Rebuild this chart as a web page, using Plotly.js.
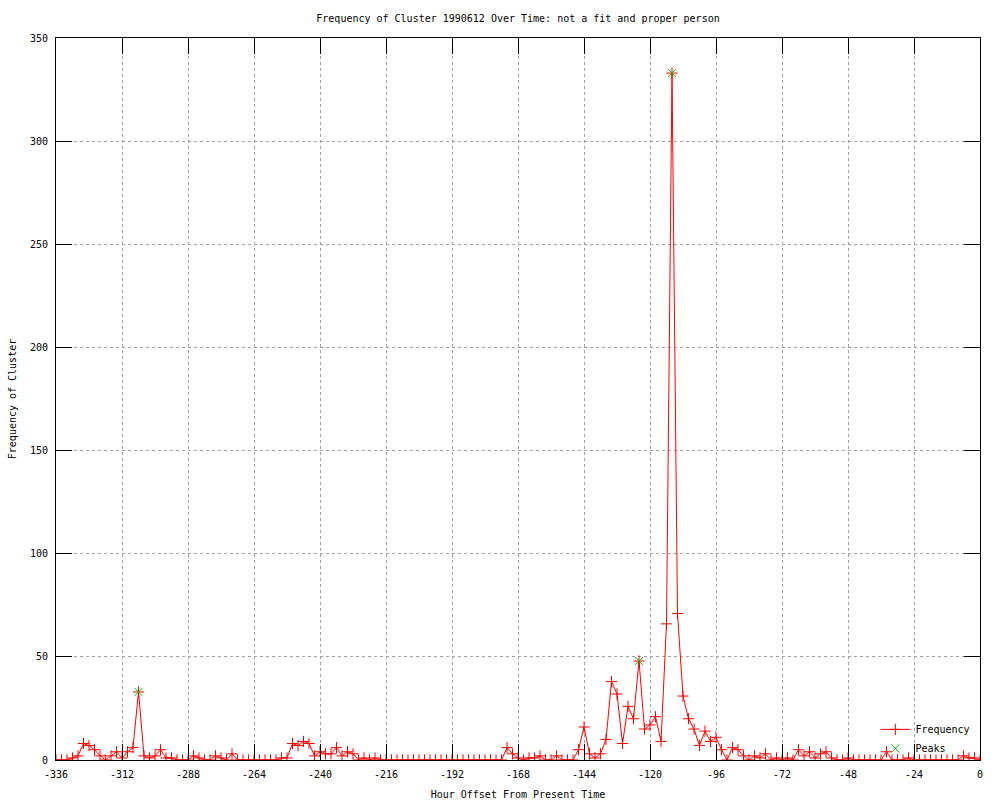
<!DOCTYPE html>
<html>
<head>
<meta charset="utf-8">
<script src="https://cdn.plot.ly/plotly-3.0.1.min.js"></script>
<style>
  html, body { margin: 0; padding: 0; background: #ffffff; }
  #chart { width: 1000px; height: 800px; }
</style>
</head>
<body>
<div id="chart"></div>
<script>
// Hour offsets (x categories), every 2 hours
const hours = [
  -336, -334, -332, -330, -328, -326, -324, -322, -320, -318,
  -316, -314, -312, -310, -308, -306, -304, -302, -300, -298,
  -296, -294, -292, -290, -288, -286, -284, -282, -280, -278,
  -276, -274, -272, -270, -268, -266, -264, -262, -260, -258,
  -256, -254, -252, -250, -248, -246, -244, -242, -240, -238,
  -236, -234, -232, -230, -228, -226, -224, -222, -220, -218,
  -216, -214, -212, -210, -208, -206, -204, -202, -200, -198,
  -196, -194, -192, -190, -188, -186, -184, -182, -180, -178,
  -176, -174, -172, -170, -168, -166, -164, -162, -160, -158,
  -156, -154, -152, -150, -148, -146, -144, -142, -140, -138,
  -136, -134, -132, -130, -128, -126, -124, -122, -120, -118,
  -116, -114, -112, -110, -108, -106, -104, -102, -100, -98,
  -96, -94, -92, -90, -88, -86, -84, -82, -80, -78,
  -76, -74, -72, -70, -68, -66, -64, -62, -60, -58,
  -56, -54, -52, -50, -48, -46, -44, -42, -40, -38,
  -36, -34, -32, -30, -28, -26, -24, -22, -20, -18,
  -16, -14, -12, -10, -8, -6, -4, -2, 0
];

// Frequency of cluster at each hour offset
const frequency = [
  0, 0, 0, 1, 2, 8, 7, 5, 2, 0,
  2, 4, 1, 4, 6, 33, 2, 1, 2, 5,
  1, 1, 0, 0, 0, 2, 1, 0, 0, 2,
  1, 0, 3, 0, 0, 0, 0, 0, 0, 0,
  0, 1, 1, 8, 7, 9, 8, 2, 4, 3,
  3, 6, 2, 4, 3, 0, 1, 0, 1, 0,
  0, 0, 0, 0, 0, 0, 0, 0, 0, 0,
  0, 0, 0, 0, 0, 0, 0, 0, 0, 0,
  0, 0, 6, 3, 1, 0, 1, 1, 2, 0,
  0, 2, 0, 0, 0, 5, 16, 3, 1, 3,
  10, 38, 32, 8, 26, 20, 48, 15, 17, 21,
  9, 66, 333, 71, 31, 20, 15, 7, 14, 9,
  11, 5, 0, 6, 5, 2, 0, 2, 1, 3,
  0, 1, 0, 1, 0, 5, 2, 4, 1, 3,
  4, 1, 0, 0, 1, 0, 0, 0, 0, 0,
  0, 4, 0, 0, 0, 1, 0, 0, 0, 0,
  0, 0, 0, 0, 0, 2, 1, 1, 0
];

// Detected peaks
const peakHours = [-306, -124, -112];
const peakValues = [33, 48, 333];

// Tick labels
const xTickVals = [-336, -312, -288, -264, -240, -216, -192, -168, -144, -120, -96, -72, -48, -24, 0];
const xTickLabels = ["-336", "-312", "-288", "-264", "-240", "-216", "-192", "-168", "-144", "-120", "-96", "-72", "-48", "-24", "0"];
const yTickVals = [0, 50, 100, 150, 200, 250, 300, 350];
const yTickLabels = ["0", "50", "100", "150", "200", "250", "300", "350"];

const FONT = "DejaVu Sans Mono, Liberation Mono, monospace";

const traces = [
  {
    x: hours,
    y: frequency,
    type: "scatter",
    mode: "lines+markers",
    name: "Frequency",
    line: { color: "#ff0000", width: 1 },
    marker: { symbol: "cross-thin", size: 8, color: "#ff0000", line: { color: "#ff0000", width: 1 } },
    hoverinfo: "skip"
  },
  {
    x: peakHours,
    y: peakValues,
    type: "scatter",
    mode: "markers",
    name: "Peaks",
    marker: { symbol: "x-thin", size: 8, color: "#00c000", line: { color: "#00c000", width: 1 } },
    hoverinfo: "skip"
  }
];

const axisCommon = {
  showline: true,
  linecolor: "#000000",
  linewidth: 1,
  mirror: "ticks",
  ticks: "inside",
  ticklen: 16,
  tickwidth: 1,
  tickcolor: "#000000",
  showgrid: true,
  gridcolor: "#a0a0a0",
  gridwidth: 1,
  griddash: "dot",
  zeroline: false,
  tickfont: { family: FONT, size: 10, color: "#000000" }
};

const layout = {
  width: 1000,
  height: 800,
  paper_bgcolor: "#ffffff",
  plot_bgcolor: "#ffffff",
  font: { family: FONT, size: 10, color: "#000000" },
  margin: { l: 56, r: 20, t: 38, b: 40, pad: 0 },
  title: {
    text: "Frequency of Cluster 1990612 Over Time: not a fit and proper person",
    font: { family: FONT, size: 10, color: "#000000" },
    xref: "paper", x: 0.5, xanchor: "center",
    yref: "container", y: 0.9775, yanchor: "middle"
  },
  xaxis: Object.assign({}, axisCommon, {
    range: [-336, 0],
    tickmode: "array",
    tickvals: xTickVals,
    ticktext: xTickLabels,
    ticklabelstandoff: 5,
    automargin: false,
    title: { text: "Hour Offset From Present Time", font: { family: FONT, size: 10, color: "#000000" }, standoff: 14 }
  }),
  yaxis: Object.assign({}, axisCommon, {
    range: [0, 350],
    tickmode: "array",
    tickvals: yTickVals,
    ticktext: yTickLabels,
    ticklabelstandoff: 5,
    automargin: false,
    title: { text: "Frequency of Cluster", font: { family: FONT, size: 10, color: "#000000" }, standoff: 11 }
  }),
  showlegend: true,
  legend: {
    x: 0.995, xanchor: "right",
    y: -0.004, yanchor: "bottom",
    bgcolor: "rgba(0,0,0,0)",
    borderwidth: 0,
    font: { family: FONT, size: 10, color: "#000000" },
    tracegroupgap: 0
  }
};

Plotly.newPlot("chart", traces, layout, { staticPlot: true, displayModeBar: false });
</script>
</body>
</html>
